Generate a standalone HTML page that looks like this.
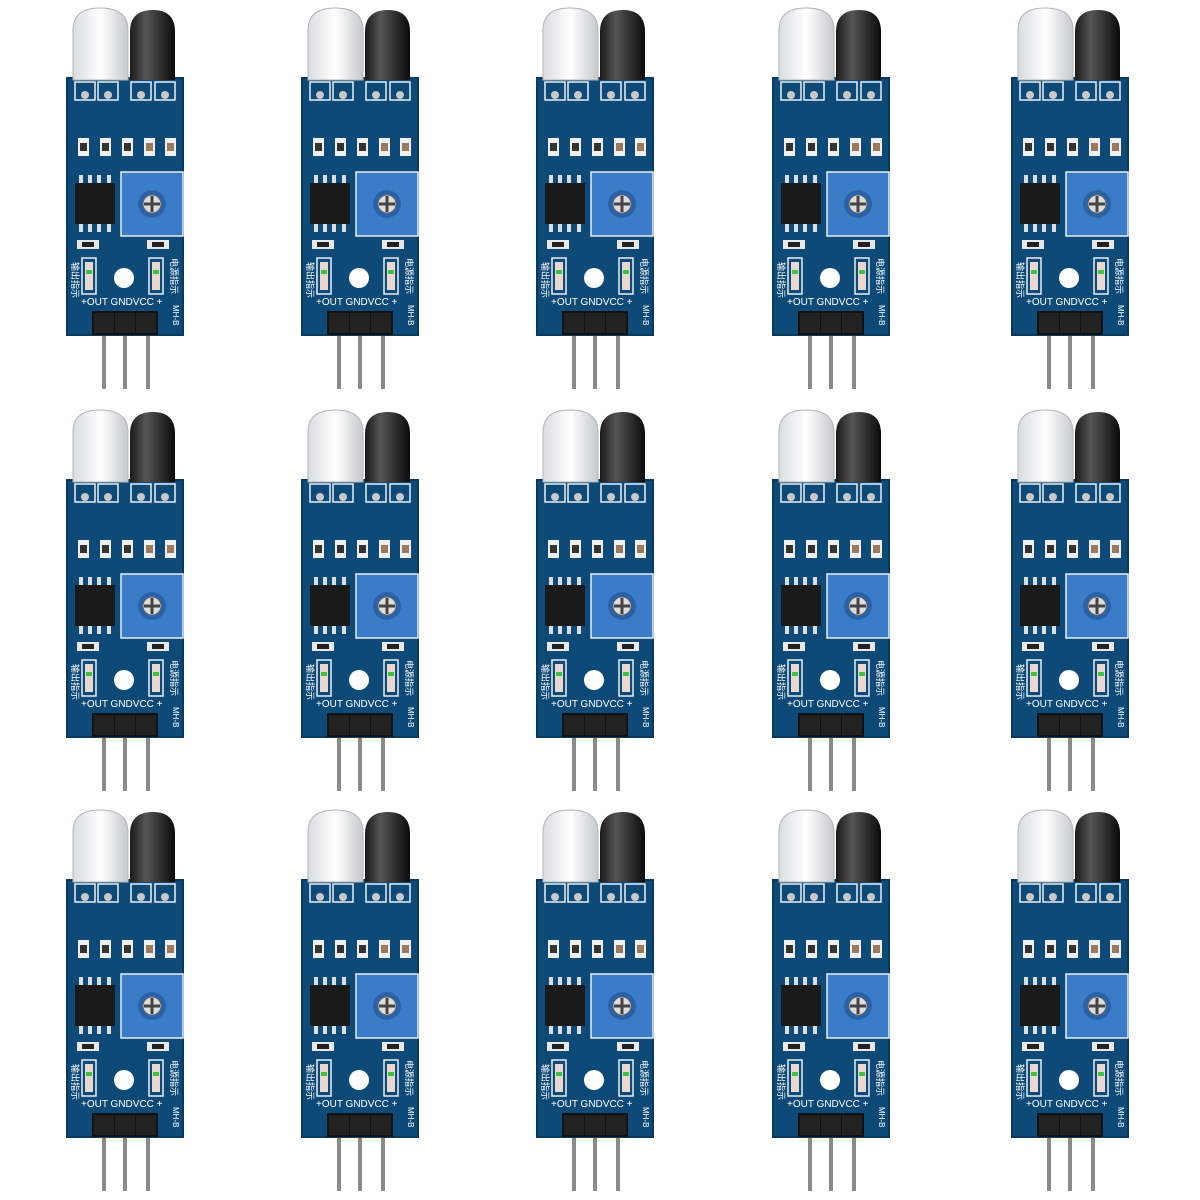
<!DOCTYPE html>
<html><head><style>html,body{margin:0;padding:0;background:#fff}svg{display:block}</style></head>
<body>
<svg width="1200" height="1200" viewBox="0 0 1200 1200" xmlns="http://www.w3.org/2000/svg">
<defs>
<linearGradient id="clr" x1="0" x2="1"><stop offset="0" stop-color="#d8dde0"/><stop offset=".5" stop-color="#ffffff"/><stop offset="1" stop-color="#c4cacd"/></linearGradient>
<linearGradient id="blk" x1="0" x2="1"><stop offset="0" stop-color="#1a1a1a"/><stop offset=".35" stop-color="#555"/><stop offset="1" stop-color="#0a0a0a"/></linearGradient>
<g id="m">
  <!-- pins -->
  <rect x="35" y="325" width="4" height="64" fill="#8a8a8a"/>
  <rect x="56" y="325" width="4" height="64" fill="#8a8a8a"/>
  <rect x="79" y="325" width="4" height="64" fill="#8a8a8a"/>
  <!-- board -->
  <rect x="0" y="78" width="116" height="257" fill="#0d4a78"/>
  <rect x="0" y="78" width="116" height="257" fill="none" stroke="#083a60" stroke-width="2"/>
  <!-- LEDs -->
  <path d="M6 80 V30 Q6 8 33 8 Q61 8 61 30 V80 Z" fill="url(#clr)" stroke="#b0b6ba"/>
  <path d="M63 80 V32 Q63 10 86 10 Q108 10 108 32 V80 Z" fill="url(#blk)"/>
  <!-- pin pads -->
  <g fill="none" stroke="#e8eef3" stroke-width="1.5">
    <rect x="8" y="82" width="20" height="18"/><rect x="31" y="82" width="20" height="18"/>
    <rect x="64" y="82" width="20" height="18"/><rect x="88" y="82" width="20" height="18"/>
  </g>
  <g fill="#c8c8c8"><circle cx="18" cy="95" r="4"/><circle cx="41" cy="95" r="4"/><circle cx="74" cy="95" r="4"/><circle cx="98" cy="95" r="4"/></g>
  <!-- SMD row -->
  <g fill="#f0f0f0"><rect x="11" y="138" width="11" height="18"/><rect x="33" y="138" width="11" height="18"/><rect x="55" y="138" width="11" height="18"/><rect x="77" y="138" width="11" height="18"/><rect x="98" y="138" width="11" height="18"/></g>
  <g fill="#333"><rect x="13" y="143" width="7" height="8"/><rect x="35" y="143" width="7" height="8"/><rect x="57" y="143" width="7" height="8"/></g>
  <g fill="#9a7a5a"><rect x="79" y="143" width="7" height="8"/><rect x="100" y="143" width="7" height="8"/></g>
  <!-- IC -->
  <g fill="#ddd"><rect x="12" y="175" width="4" height="8"/><rect x="21" y="175" width="4" height="8"/><rect x="30" y="175" width="4" height="8"/><rect x="40" y="175" width="4" height="8"/>
  <rect x="12" y="224" width="4" height="8"/><rect x="21" y="224" width="4" height="8"/><rect x="30" y="224" width="4" height="8"/><rect x="40" y="224" width="4" height="8"/></g>
  <rect x="8" y="183" width="40" height="41" fill="#1a1a1a"/>
  <!-- pot -->
  <rect x="54" y="172" width="62" height="64" fill="#3a7cc8" stroke="#e8eef3" stroke-width="1.5"/>
  <circle cx="85" cy="204" r="14" fill="#2a62a8"/>
  <circle cx="85" cy="204" r="9" fill="#ddd" stroke="#666"/>
  <rect x="83.5" y="196" width="3" height="16" fill="#444"/><rect x="77" y="202.5" width="16" height="3" fill="#444"/>
  <!-- small resistors -->
  <rect x="10" y="240" width="22" height="9" fill="#e8e8e8"/><rect x="15" y="242" width="12" height="5" fill="#222"/>
  <rect x="80" y="240" width="22" height="9" fill="#e8e8e8"/><rect x="85" y="242" width="12" height="5" fill="#222"/>
  <!-- indicator LEDs -->
  <rect x="15" y="258" width="14" height="36" fill="none" stroke="#e8eef3" stroke-width="1.5"/>
  <rect x="18" y="262" width="8" height="28" fill="#e8d8d0"/><rect x="19" y="270" width="6" height="4" fill="#40c040"/>
  <rect x="82" y="258" width="14" height="36" fill="none" stroke="#e8eef3" stroke-width="1.5"/>
  <rect x="85" y="262" width="8" height="28" fill="#e8d8d0"/><rect x="86" y="270" width="6" height="4" fill="#40c040"/>
  <circle cx="57" cy="278" r="10" fill="#fff"/>
  <text x="5" y="262" font-family="Liberation Sans,'Noto Sans CJK SC',sans-serif" font-size="9" fill="#fff" transform="rotate(90 5 262)">输出指示</text>
  <text x="104" y="258" font-family="Liberation Sans,'Noto Sans CJK SC',sans-serif" font-size="9" fill="#fff" transform="rotate(90 104 258)">电源指示</text>
  <text x="14" y="305" font-family="Liberation Sans,sans-serif" font-size="10" fill="#fff">+OUT GNDVCC +</text>
  <text x="106" y="305" font-family="Liberation Sans,sans-serif" font-size="8" fill="#fff" transform="rotate(90 106 305)">MH-B</text>
  <!-- header -->
  <rect x="25" y="311" width="66" height="24" fill="#111"/>
  <rect x="27" y="313" width="20" height="20" fill="#222"/><rect x="48" y="313" width="20" height="20" fill="#222"/><rect x="69" y="313" width="20" height="20" fill="#222"/>
</g>
</defs>
<use href="#m" x="67" y="0"/><use href="#m" x="302" y="0"/><use href="#m" x="537" y="0"/><use href="#m" x="773" y="0"/><use href="#m" x="1012" y="0"/>
<use href="#m" x="67" y="402"/><use href="#m" x="302" y="402"/><use href="#m" x="537" y="402"/><use href="#m" x="773" y="402"/><use href="#m" x="1012" y="402"/>
<use href="#m" x="67" y="802"/><use href="#m" x="302" y="802"/><use href="#m" x="537" y="802"/><use href="#m" x="773" y="802"/><use href="#m" x="1012" y="802"/>
</svg>
</body></html>
